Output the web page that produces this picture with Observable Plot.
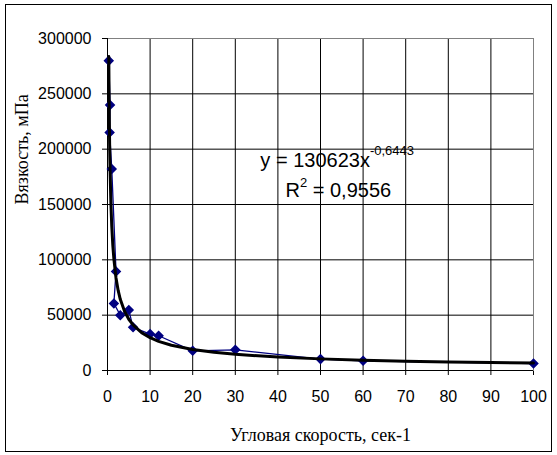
<!DOCTYPE html>
<html><head><meta charset="utf-8">
<script src="https://cdn.jsdelivr.net/npm/d3@7"></script>
<script src="https://cdn.jsdelivr.net/npm/@observablehq/plot@0.6"></script>
<style>
body{margin:0;background:#fff}
#chart{position:relative;width:557px;height:455px}
</style>
</head><body><div id="chart"></div>
<script>
// Measured series (angular speed vs viscosity)
const speed = [0.3, 0.6, 0.5, 1, 2, 1.5, 3, 5, 6, 10, 12, 20, 30, 50, 60, 100];
const viscosity = [280000, 240000, 215000, 182000, 89500, 60500, 50000, 54600, 39000, 32900, 31400, 17800, 18700, 10300, 8800, 6300];
// Power trendline as drawn
const trendX = [0.3, 0.4, 0.5, 0.6, 0.8, 1, 1.25, 1.5, 2, 2.5, 3, 4, 5, 6, 8, 10, 12, 15, 20, 25, 30, 40, 50, 60, 70, 80, 90, 100];
const trendY = [283740, 235720, 204160, 181540, 150820, 130623, 113130, 100590, 83575, 72383, 64359, 53469, 46310, 41177, 34213, 29627, 26344, 22817, 18957, 16419, 14597, 12129, 10504, 9339, 8456, 7759, 7192, 6720];
const xTicks = [0, 10, 20, 30, 40, 50, 60, 70, 80, 90, 100];
const yTicks = [0, 50000, 100000, 150000, 200000, 250000, 300000];
const xTitle = "Угловая скорость, сек-1";
const yTitle = "Вязкость, мПа";
const eqMain = "y = 130623x";
const eqExp = "-0,6443";
const r2Base = "R";
const r2Exp = "2";
const r2Rest = " = 0,9556";

const points = speed.map((s, i) => ({speed: s, visc: viscosity[i]}));
const trend = trendX.map((s, i) => ({speed: s, visc: trendY[i]}));

const sans = "'Liberation Sans', Arial, sans-serif";
const serif = "'Liberation Serif', 'Times New Roman', serif";

const plot = Plot.plot({
  width: 557,
  height: 455,
  marginLeft: 107,
  marginRight: 24,
  marginTop: 38,
  marginBottom: 85,
  style: {fontFamily: sans, fontSize: "16px", background: "transparent", color: "#000", overflow: "visible"},
  x: {domain: [0, 100], ticks: xTicks, tickSize: 5, tickPadding: 15, tickFormat: d => String(d), label: null},
  y: {domain: [0, 300000], ticks: yTicks, tickSize: 5, tickPadding: 11, tickFormat: d => String(d), label: null},
  marks: [
    Plot.ruleX(xTicks.slice(1, -1), {stroke: "#000", strokeWidth: 1}),
    Plot.ruleY(yTicks.slice(1, -1), {stroke: "#000", strokeWidth: 1}),
    Plot.frame({stroke: "#808080"}),
    Plot.ruleX([0], {stroke: "#000"}),
    Plot.ruleY([0], {stroke: "#000"}),
    Plot.line(points, {x: "speed", y: "visc", stroke: "#000080", strokeWidth: 1.3}),
    Plot.dot(points, {x: "speed", y: "visc", symbol: "diamond2", r: 3.8, fill: "#000080", stroke: "#000080"}),
    Plot.line(trend, {x: "speed", y: "visc", stroke: "#000", strokeWidth: 3}),
    Plot.text([xTitle], {frameAnchor: "bottom", dy: 70, fontFamily: serif, fontSize: 18, fill: "#000"}),
    Plot.text([yTitle], {frameAnchor: "left", dx: -85, rotate: -90, fontFamily: serif, fontSize: 18, fill: "#000"})
  ]
});

document.getElementById("chart").appendChild(plot);

const svg = d3.select(plot);
const xs = d3.scaleLinear().domain([0, 100]).range([107, 533]);
const ys = d3.scaleLinear().domain([0, 300000]).range([370, 38]);

// Chart area border
svg.append("rect")
  .attr("x", 5.5).attr("y", 4.5).attr("width", 546).attr("height", 447)
  .attr("fill", "none").attr("stroke", "#000");

// Trendline equation
const eq = svg.append("text")
  .attr("x", xs(36)).attr("y", ys(183400))
  .attr("text-anchor", "start")
  .attr("font-family", sans).attr("font-size", 20).attr("fill", "#000");
eq.append("tspan").text(eqMain);
eq.append("tspan").attr("font-size", 13).attr("dy", -12).text(eqExp);

const r2 = svg.append("text")
  .attr("x", xs(41.9)).attr("y", ys(156300))
  .attr("text-anchor", "start")
  .attr("font-family", sans).attr("font-size", 20).attr("fill", "#000");
r2.append("tspan").text(r2Base);
r2.append("tspan").attr("font-size", 13).attr("dy", -10).text(r2Exp);
r2.append("tspan").attr("dy", 10).text(r2Rest);
</script>
</body></html>
